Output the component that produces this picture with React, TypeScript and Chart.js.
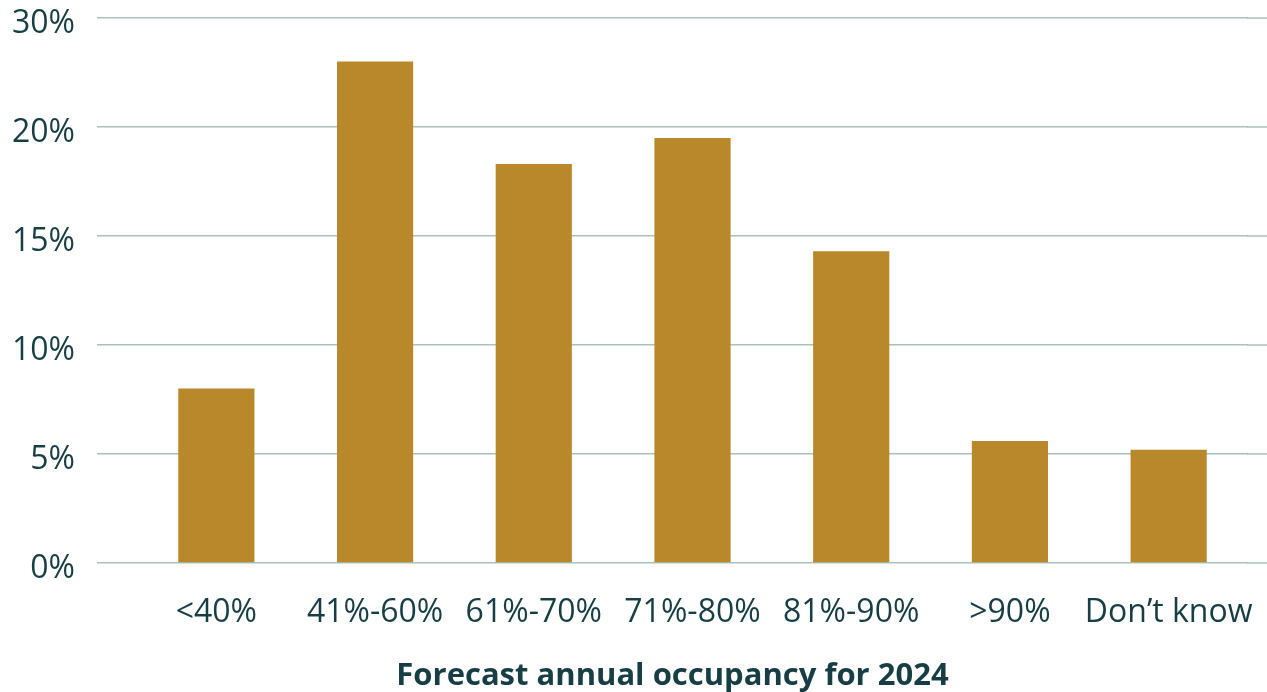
import React, { useEffect, useRef } from "react";
import { Chart, registerables } from "chart.js";

Chart.register(...registerables);

const categories = ["<40%", "41%-60%", "61%-70%", "71%-80%", "81%-90%", ">90%", "Don\u2019t know"];
const shares = [8.0, 23.0, 18.3, 19.5, 14.3, 5.6, 5.2];
const yTickLabels = ["0%", "5%", "10%", "15%", "20%", "30%"];
const xTitle = "Forecast annual occupancy for 2024";

const TEXT = "#173d45";
const GRID = "#a9c2bc";
const BAR = "#b8882a";
const FONT = "'Open Sans', 'Noto Sans', sans-serif";
const TICK_LEN = 40;

function zeroPad(scale: any) {
  scale.paddingTop = 0;
  scale.paddingBottom = 0;
  scale.paddingLeft = 0;
  scale.paddingRight = 0;
}

export default function App() {
  const ref = useRef<HTMLCanvasElement | null>(null);

  useEffect(() => {
    if (!ref.current) return;
    const extendGrid = {
      id: "extendGrid",
      beforeDatasetsDraw(chart: any) {
        const { ctx, chartArea, scales } = chart;
        const y = scales.y;
        ctx.save();
        ctx.strokeStyle = GRID;
        ctx.lineWidth = 1.5;
        y.ticks.forEach((t: any) => {
          const py = y.getPixelForValue(t.value);
          ctx.beginPath();
          ctx.moveTo(chartArea.right - 1, py);
          ctx.lineTo(chart.width, py);
          ctx.stroke();
        });
        ctx.restore();
      },
      afterDraw(chart: any) {
        const { ctx, chartArea } = chart;
        ctx.save();
        ctx.fillStyle = TEXT;
        ctx.font = `bold 31px 'Open Sans', 'Noto Sans', sans-serif`;
        ctx.textAlign = "center";
        ctx.textBaseline = "middle";
        const cx = (chartArea.left - TICK_LEN + chartArea.right) / 2;
        ctx.fillText(xTitle, cx, 676);
        ctx.restore();
      },
    };

    const chart = new Chart(ref.current, {
      type: "bar",
      data: {
        labels: categories,
        datasets: [
          {
            data: shares,
            backgroundColor: BAR,
            borderWidth: 0,
            categoryPercentage: 1,
            barPercentage: 0.48,
          },
        ],
      },
      options: {
        responsive: false,
        animation: false,
        layout: { padding: { top: 18, right: 19, left: 0, bottom: 0 } },
        plugins: {
          legend: { display: false },
          tooltip: { enabled: false },
          title: { display: false },
        },
        scales: {
          x: {
            grid: { display: false, drawTicks: false },
            border: { display: false },
            ticks: {
              color: TEXT,
              font: { family: FONT, size: 32 },
              padding: 31,
              maxRotation: 0,
              autoSkip: false,
            },
            afterFit(scale: any) {
              scale.height = 129;
              zeroPad(scale);
            },
          },
          y: {
            min: 0,
            max: 25,
            grid: {
              color: GRID,
              lineWidth: 1.5,
              drawTicks: true,
              tickLength: TICK_LEN,
              tickColor: GRID,
            },
            border: { display: false },
            ticks: {
              stepSize: 5,
              color: TEXT,
              font: { family: FONT, size: 32 },
              padding: 22,
              labelOffset: 6,
              callback: (_v: any, i: number) => yTickLabels[i],
            },
            afterFit(scale: any) {
              scale.width = 137;
              zeroPad(scale);
            },
          },
        },
      },
      plugins: [extendGrid],
    });
    return () => chart.destroy();
  }, []);

  return (
    <div style={{ position: "absolute", left: 0, top: 0, width: 1267, height: 692, background: "#fff" }}>
      <canvas ref={ref} width={1267} height={692} />
    </div>
  );
}
